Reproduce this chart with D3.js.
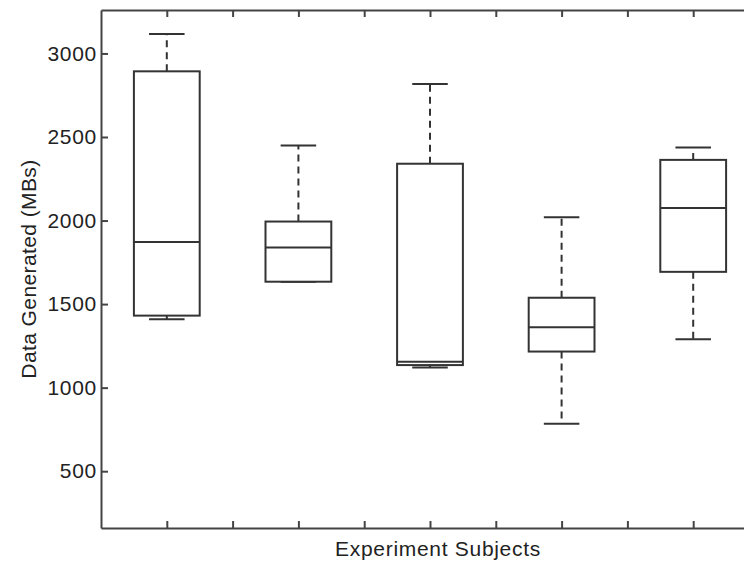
<!DOCTYPE html>
<html>
<head>
<meta charset="utf-8">
<script src="https://cdn.jsdelivr.net/npm/d3@7"></script>
<style>
  body { margin: 0; background: white; }
  svg { display: block; font-family: "Liberation Sans", Arial, sans-serif; }
</style>
</head>
<body>
<svg id="svg" width="744" height="562"></svg>
<script>
// box plot values per experiment subject (MBs)
let positions = [1, 2, 3, 4, 5];
let lowerWhisker = [1409, 1634, 1120, 784, 1289];
let q1 = [1431, 1634, 1135, 1216, 1693];
let median = [1872, 1838, 1155, 1361, 2075];
let q3 = [2893, 1994, 2340, 1538, 2363];
let upperWhisker = [3117, 2449, 2817, 2019, 2437];
let yTicks = [500, 1000, 1500, 2000, 2500, 3000];
let xTicks = [1, 1.5, 2, 2.5, 3, 3.5, 4, 4.5, 5, 5.5];

function graph() {
  let svg = d3.select("svg");
  let margin = {top: 10, left: 101};
  let width = 658, height = 518;
  let lineColor = "#333";
  let fontSize = "21px";

  let data = positions.map((p, i) => ({
    pos: p, lo: lowerWhisker[i], q1: q1[i], med: median[i], q3: q3[i], hi: upperWhisker[i]
  }));

  let g = svg.append("g").attr("transform", "translate(" + margin.left + "," + margin.top + ")");

  let x = d3.scaleLinear().domain([0.5, 5.5]).range([0, width]);
  let y = d3.scaleLinear().domain([160, 3260]).range([height, 0]);

  let boxW = x(1.25) - x(1);   // half width of box
  let capW = x(1.135) - x(1);  // half width of whisker cap

  // axes, ticks pointing inward
  let styleAxis = sel => {
    sel.select(".domain").attr("stroke", "#444").attr("stroke-width", 2);
    sel.selectAll(".tick line").attr("stroke", "#444").attr("stroke-width", 2);
    sel.selectAll(".tick text").attr("fill", "#222")
      .style("font-size", fontSize).style("letter-spacing", "0.7px");
  };

  g.append("g")
    .attr("transform", "translate(0," + height + ")")
    .call(d3.axisBottom(x).tickValues(xTicks).tickSize(-7).tickSizeOuter(0).tickFormat(""))
    .call(styleAxis);

  g.append("g")
    .call(d3.axisTop(x).tickValues(xTicks).tickSize(-7).tickSizeOuter(0).tickFormat(""))
    .call(styleAxis);

  g.append("g")
    .call(d3.axisLeft(y).tickValues(yTicks).tickSize(-7).tickSizeOuter(0).tickFormat(d3.format("d")))
    .call(styleAxis)
    .selectAll(".tick text").attr("x", -4);

  g.append("g")
    .attr("transform", "translate(" + width + ",0)")
    .call(d3.axisRight(y).tickValues(yTicks).tickSize(-7).tickSizeOuter(0).tickFormat(""))
    .call(styleAxis);

  let boxes = g.selectAll(".box")
    .data(data)
    .enter().append("g")
    .attr("class", "box")
    .attr("fill", "none")
    .attr("stroke", lineColor)
    .attr("stroke-width", 2);

  // dashed whiskers
  boxes.append("line")
    .attr("x1", d => x(d.pos)).attr("x2", d => x(d.pos))
    .attr("y1", d => y(d.q3)).attr("y2", d => y(d.hi))
    .attr("stroke-dasharray", "7,5");
  boxes.append("line")
    .attr("x1", d => x(d.pos)).attr("x2", d => x(d.pos))
    .attr("y1", d => y(d.q1)).attr("y2", d => y(d.lo))
    .attr("stroke-dasharray", "7,5");

  // caps
  boxes.append("line")
    .attr("x1", d => x(d.pos) - capW).attr("x2", d => x(d.pos) + capW)
    .attr("y1", d => y(d.hi)).attr("y2", d => y(d.hi));
  boxes.append("line")
    .attr("x1", d => x(d.pos) - capW).attr("x2", d => x(d.pos) + capW)
    .attr("y1", d => y(d.lo)).attr("y2", d => y(d.lo));

  // box
  boxes.append("rect")
    .attr("x", d => x(d.pos) - boxW)
    .attr("width", boxW * 2)
    .attr("y", d => y(d.q3))
    .attr("height", d => y(d.q1) - y(d.q3))
    .attr("fill", "white");

  // median
  boxes.append("line")
    .attr("x1", d => x(d.pos) - boxW).attr("x2", d => x(d.pos) + boxW)
    .attr("y1", d => y(d.med)).attr("y2", d => y(d.med));

  svg.append("text")
    .attr("x", 438)
    .attr("y", 556)
    .attr("text-anchor", "middle")
    .attr("fill", "#222")
    .style("font-size", fontSize)
    .style("letter-spacing", "0.7px")
    .text("Experiment Subjects");

  svg.append("text")
    .attr("transform", "translate(36," + (margin.top + height / 2) + ") rotate(-90)")
    .attr("text-anchor", "middle")
    .attr("fill", "#222")
    .style("font-size", fontSize)
    .style("letter-spacing", "0.4px")
    .text("Data Generated (MBs)");
}

graph();
</script>
</body>
</html>
